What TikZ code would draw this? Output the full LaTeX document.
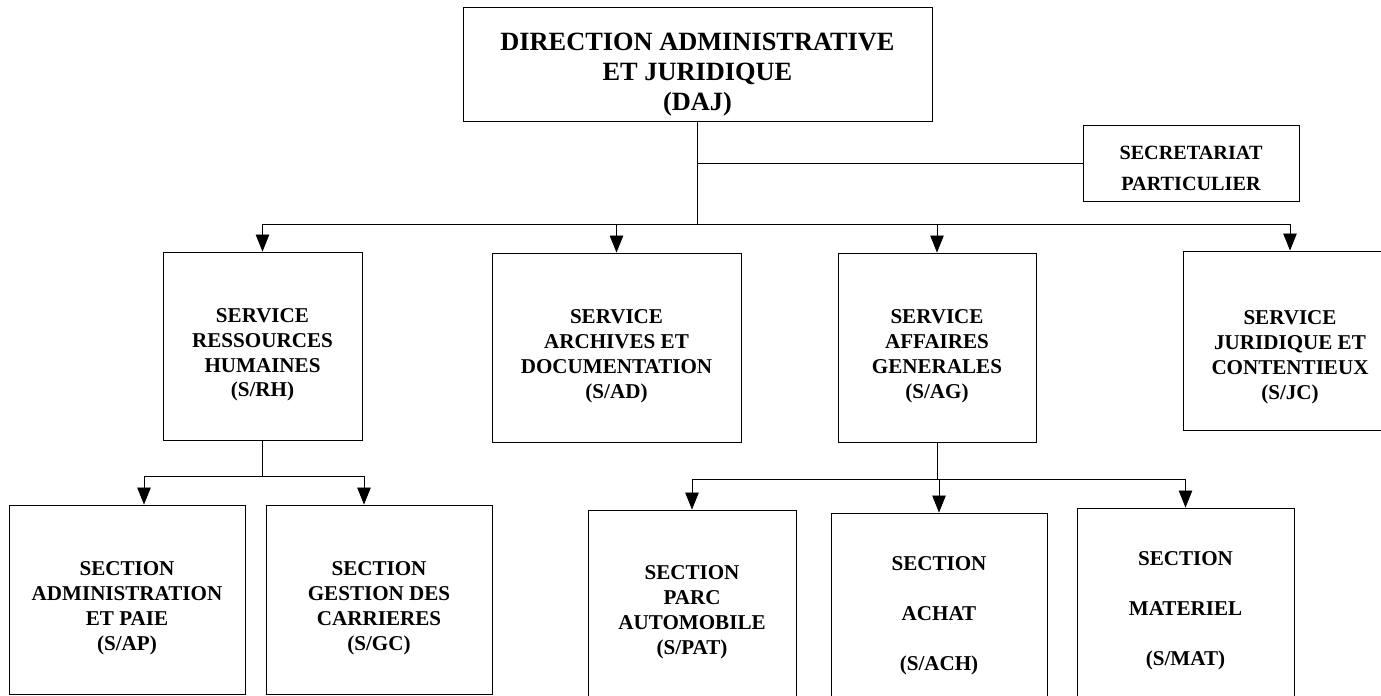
\documentclass[tikz,border=0pt]{standalone}
\usepackage{fontspec}
\setmainfont{Liberation Serif}
\usetikzlibrary{arrows.meta}
\newcommand\txtdrop[1]{\rule{0pt}{#1}}

\begin{document}
\begin{tikzpicture}[
  dirbox/.style={rectangle, draw, line width=0.5pt, align=center, inner sep=1pt,
                 font=\bfseries\fontsize{15}{17}\selectfont},
  svc/.style={rectangle, draw, line width=0.5pt, align=center, inner sep=2pt,
              font=\bfseries\fontsize{12}{14.2}\selectfont},
  wide/.style={font=\bfseries\fontsize{12}{28.4}\selectfont},
  arr/.style={-{Triangle[length=0.34cm, width=0.27cm]}, line width=0.5pt},
  link/.style={line width=0.5pt},
]
\useasboundingbox (0,0) rectangle (27.62,13.92);
\clip (0,0) rectangle (27.62,13.92);

% Direction and secretariat
\node[dirbox, minimum width=9.38cm, minimum height=2.28cm] (daj) at (13.95,12.64)
  {\txtdrop{22pt}DIRECTION ADMINISTRATIVE\\ET JURIDIQUE\\(DAJ)};
\node[svc, font=\bfseries\fontsize{11.5}{17.6}\selectfont,
      minimum width=4.32cm, minimum height=1.52cm] (sec) at (23.82,10.66)
  {\txtdrop{14pt}SECRETARIAT\\PARTICULIER};

% Services
\node[svc, minimum width=3.98cm, minimum height=3.76cm] (srh) at (5.25,7.0)
  {\txtdrop{18pt}SERVICE\\RESSOURCES\\HUMAINES\\(S/RH)};
\node[svc, minimum width=4.98cm, minimum height=3.78cm] (sad) at (12.33,6.97)
  {\txtdrop{18pt}SERVICE\\ARCHIVES ET\\DOCUMENTATION\\(S/AD)};
\node[svc, minimum width=3.96cm, minimum height=3.78cm] (sag) at (18.74,6.97)
  {\txtdrop{18pt}SERVICE\\AFFAIRES\\GENERALES\\(S/AG)};
\node[svc, minimum width=4.28cm, minimum height=3.58cm] (sjc) at (25.8,7.11)
  {\txtdrop{27pt}SERVICE\\JURIDIQUE ET\\CONTENTIEUX\\(S/JC)};

% Sections
\node[svc, minimum width=4.72cm, minimum height=3.78cm] (sap) at (2.54,1.93)
  {\txtdrop{18pt}SECTION\\ADMINISTRATION\\ET PAIE\\(S/AP)};
\node[svc, minimum width=4.52cm, minimum height=3.78cm] (sgc) at (7.58,1.93)
  {\txtdrop{18pt}SECTION\\GESTION DES\\CARRIERES\\(S/GC)};
\node[svc, minimum width=4.16cm, minimum height=4.0cm] (spat) at (13.84,1.72)
  {\txtdrop{11pt}SECTION\\PARC\\AUTOMOBILE\\(S/PAT)};
\node[svc, wide, minimum width=4.32cm, minimum height=4.0cm] (sach) at (18.78,1.66)
  {\txtdrop{11pt}SECTION\\ACHAT\\(S/ACH)};
\node[svc, wide, minimum width=4.34cm, minimum height=4.0cm] (smat) at (23.71,1.76)
  {\txtdrop{11pt}SECTION\\MATERIEL\\(S/MAT)};

% Direction links
\path (daj.south) ++(0,-2.06) coordinate (bus);
\draw[link] (daj.south) -- (bus);
\draw[link] (sec.west) -- (sec.west -| daj.south);
\draw[link] (bus -| srh.north) -- (bus -| sjc.north);
\foreach \n in {srh, sad, sag, sjc}
  \draw[arr] (bus -| \n.north) -- (\n.north);

% S/RH links
\path (srh.south) ++(0,-0.72) coordinate (rhbus);
\coordinate (sapin) at ([xshift=0.34cm]sap.north);
\coordinate (sgcin) at ([xshift=-0.3cm]sgc.north);
\draw[link] (srh.south) -- (rhbus);
\draw[link] (rhbus -| sapin) -- (rhbus -| sgcin);
\draw[arr] (rhbus -| sapin) -- (sapin);
\draw[arr] (rhbus -| sgcin) -- (sgcin);

% S/AG links
\path (sag.south) ++(0,-0.74) coordinate (agbus);
\draw[link] (sag.south) -- (agbus);
\draw[link] (agbus -| spat.north) -- (agbus -| smat.north);
\foreach \n in {spat, sach, smat}
  \draw[arr] (agbus -| \n.north) -- (\n.north);

\end{tikzpicture}
\end{document}
